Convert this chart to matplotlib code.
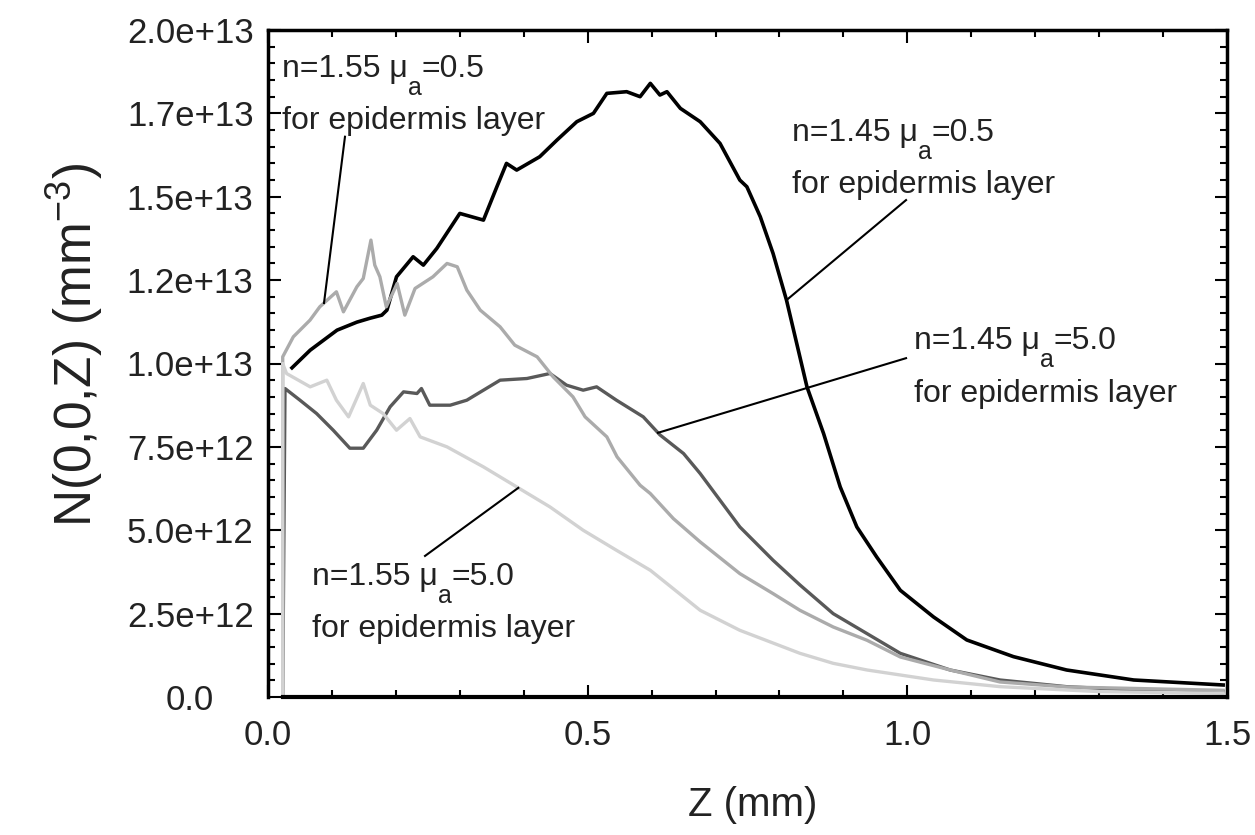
"""Photon density N(0,0,Z) versus depth for four epidermis settings."""

import matplotlib
matplotlib.use("Agg")
import matplotlib.pyplot as plt
import numpy as np
from matplotlib.ticker import MultipleLocator

# depth (mm) and density (units of 1e12 mm^-3)
z_n145_mu05 = [0.0375, 0.066, 0.108, 0.139, 0.160, 0.178, 0.186, 0.201, 0.227, 0.243,
               0.264, 0.300, 0.337, 0.358, 0.373, 0.389, 0.425, 0.452, 0.483, 0.509,
               0.530, 0.561, 0.582, 0.598, 0.613, 0.624, 0.645, 0.676, 0.707, 0.738,
               0.749, 0.770, 0.790, 0.811, 0.827, 0.843, 0.869, 0.895, 0.921, 0.952,
               0.989, 1.041, 1.093, 1.166, 1.249, 1.354, 1.494]
n_n145_mu05 = [9.87, 10.40, 11.0, 11.24, 11.36, 11.45, 11.6, 12.6, 13.2, 12.95,
               13.45, 14.5, 14.3, 15.3, 16.0, 15.8, 16.2, 16.7, 17.25, 17.5,
               18.1, 18.15, 18.0, 18.4, 18.05, 18.15, 17.65, 17.25, 16.6, 15.5,
               15.3, 14.4, 13.3, 11.9, 10.6, 9.3, 7.9, 6.3, 5.1, 4.2,
               3.2, 2.4, 1.71, 1.21, 0.81, 0.51, 0.36]

z_n145_mu50 = [0.023, 0.0266, 0.050, 0.076, 0.102, 0.128, 0.149, 0.170, 0.191, 0.212,
               0.233, 0.240, 0.253, 0.285, 0.311, 0.337, 0.363, 0.405, 0.441, 0.467,
               0.493, 0.514, 0.545, 0.587, 0.613, 0.650, 0.676, 0.738, 0.790, 0.832,
               0.884, 0.937, 0.989, 1.067, 1.145, 1.249, 1.354, 1.494]
n_n145_mu50 = [0.0, 9.25, 8.9, 8.5, 8.0, 7.46, 7.46, 8.0, 8.7, 9.15,
               9.1, 9.25, 8.75, 8.75, 8.9, 9.2, 9.5, 9.55, 9.7, 9.35,
               9.2, 9.3, 8.9, 8.4, 7.86, 7.3, 6.7, 5.1, 4.1, 3.36,
               2.5, 1.9, 1.31, 0.81, 0.51, 0.31, 0.21, 0.16]

z_n155_mu05 = [0.023, 0.023, 0.0396, 0.0657, 0.081, 0.107, 0.118, 0.139, 0.149, 0.161,
               0.167, 0.175, 0.185, 0.196, 0.202, 0.214, 0.230, 0.258, 0.280, 0.296,
               0.311, 0.332, 0.363, 0.386, 0.421, 0.446, 0.477, 0.496, 0.530, 0.546,
               0.582, 0.598, 0.634, 0.676, 0.738, 0.790, 0.832, 0.884, 0.937, 0.989,
               1.067, 1.145, 1.250, 1.494]
n_n155_mu05 = [0.0, 10.2, 10.8, 11.3, 11.7, 12.15, 11.55, 12.3, 12.55, 13.7,
               12.95, 12.6, 11.7, 12.15, 12.4, 11.45, 12.25, 12.6, 13.0, 12.9,
               12.2, 11.6, 11.1, 10.55, 10.2, 9.6, 9.0, 8.4, 7.8, 7.2,
               6.35, 6.1, 5.35, 4.65, 3.7, 3.1, 2.6, 2.1, 1.7, 1.2,
               0.81, 0.45, 0.3, 0.2]

z_n155_mu50 = [0.023, 0.023, 0.029, 0.066, 0.092, 0.107, 0.126, 0.149, 0.160, 0.180,
               0.201, 0.222, 0.238, 0.280, 0.337, 0.389, 0.441, 0.493, 0.545, 0.598,
               0.650, 0.676, 0.738, 0.832, 0.884, 0.937, 1.041, 1.145, 1.301, 1.494]
n_n155_mu50 = [0.0, 10.0, 9.7, 9.3, 9.5, 8.9, 8.4, 9.4, 8.75, 8.5,
               8.0, 8.35, 7.8, 7.5, 6.9, 6.3, 5.7, 5.0, 4.4, 3.8,
               3.0, 2.6, 2.0, 1.31, 1.01, 0.81, 0.51, 0.31, 0.16, 0.11]

y_ticks = [0.0, 2.5e12, 5.0e12, 7.5e12, 1.0e13, 1.25e13, 1.5e13, 1.75e13, 2.0e13]
y_tick_labels = ["0.0", "2.5e+12", "5.0e+12", "7.5e+12", "1.0e+13",
                 "1.2e+13", "1.5e+13", "1.7e+13", "2.0e+13"]
x_ticks = [0.0, 0.5, 1.0, 1.5]
x_tick_labels = ["0.0", "0.5", "1.0", "1.5"]

# (refractive index, absorption coefficient) of each curve label
label_n = ["1.55", "1.45", "1.45", "1.55"]
label_mu = ["0.5", "0.5", "5.0", "5.0"]
label_second_line = "for epidermis layer"

SCALE = 1e12
TEXT_COLOR = "#222222"

plt.rcParams["font.family"] = ["Liberation Sans", "DejaVu Sans"]
plt.rcParams["mathtext.fontset"] = "custom"
plt.rcParams["mathtext.rm"] = "Liberation Sans"
plt.rcParams["mathtext.it"] = "Liberation Sans"
plt.rcParams["mathtext.default"] = "regular"

fig = plt.figure(figsize=(12.55, 8.35), dpi=100)
ax = fig.add_axes([268 / 1255, 1 - 697 / 835, 959 / 1255, 667 / 835])

series = [
    (z_n145_mu05, n_n145_mu05, "#000000", 2.6),
    (z_n145_mu50, n_n145_mu50, "#595959", 2.4),
    (z_n155_mu05, n_n155_mu05, "#ababab", 2.4),
    (z_n155_mu50, n_n155_mu50, "#d2d2d2", 2.4),
]
for zs, ns, color, lw in series:
    ax.plot(zs, np.array(ns) * SCALE, color=color, linewidth=lw, solid_joinstyle="round")

ax.set_xlim(0, 1.5)
ax.set_ylim(0, 2.0e13)
ax.set_xticks(x_ticks)
ax.set_xticklabels(x_tick_labels, fontsize=25, color=TEXT_COLOR)
ax.set_yticks(y_ticks)
ax.set_yticklabels(y_tick_labels, fontsize=25, ha="center", color=TEXT_COLOR)
ax.xaxis.set_minor_locator(MultipleLocator(0.1))
ax.yaxis.set_minor_locator(MultipleLocator(5e11))
ax.tick_params(which="both", direction="in", top=True, right=True, width=1.5, color="black")
ax.tick_params(which="major", length=9)
ax.tick_params(which="minor", length=5)
ax.tick_params(axis="x", pad=16)
ax.tick_params(axis="y", pad=56)
for side in ["left", "right", "top"]:
    ax.spines[side].set_linewidth(2.5)
ax.spines["bottom"].set_linewidth(3)
ax.spines["bottom"].set_bounds(0.023, 1.5)

# leader lines: (curve, depth on curve, text end of the line)
leaders = [
    (2, 0.0876, (0.1204, 16.8)),
    (0, 0.811, (0.998, 14.9)),
    (1, 0.610, (0.998, 10.16)),
    (3, 0.3915, (0.2456, 4.23)),
]
for idx, z_on, (zt, nt) in leaders:
    zs, ns = series[idx][0], series[idx][1]
    n_on = np.interp(z_on, zs[1:] if zs[0] == zs[1] else zs, ns[1:] if zs[0] == zs[1] else ns)
    ax.plot([zt, z_on], [nt * SCALE, n_on * SCALE], color="black", linewidth=1.5)


def label_with_subscript(ax, x, y, head, sub, tail, size=23, sub_size=18, drop=18):
    """Write head, a lowered subscript and tail in sequence on one baseline."""
    renderer = ax.figure.canvas.get_renderer()
    x0, y0 = ax.transData.transform((x, y))
    t = ax.text(x0, y0, head, transform=None, fontsize=size, ha="left",
                va="baseline", color=TEXT_COLOR)
    x1 = t.get_window_extent(renderer).x1
    s = ax.text(x1, y0 - drop, sub, transform=None, fontsize=sub_size, ha="left",
                va="baseline", color=TEXT_COLOR)
    x2 = s.get_window_extent(renderer).x1
    ax.text(x2, y0, tail, transform=None, fontsize=size, ha="left",
            va="baseline", color=TEXT_COLOR)


# text anchors (left, baseline of line 1, baseline of line 2)
label_pos = [
    (0.0219, 18.59, 17.03),
    (0.8197, 16.67, 15.11),
    (1.0097, 10.43, 8.85),
    (0.0688, 3.36, 1.81),
]
fig.canvas.draw()
for n_txt, mu_txt, (zt, n1, n2) in zip(label_n, label_mu, label_pos):
    label_with_subscript(ax, zt, n1 * SCALE, f"n={n_txt} \u03bc", "a", f"={mu_txt}")
    ax.text(zt, n2 * SCALE, label_second_line, fontsize=23, ha="left", va="baseline",
            color=TEXT_COLOR)

fig.text(753 / 1255, 1 - 805 / 835, "Z (mm)", fontsize=29, ha="center", va="center",
         color=TEXT_COLOR)
fig.text(75 / 1255, 1 - 345 / 835, r"N(0,0,Z) (mm$^{-3}$)", fontsize=37,
         ha="center", va="center", rotation=90, color=TEXT_COLOR)

fig.savefig("out.png", dpi=100)
